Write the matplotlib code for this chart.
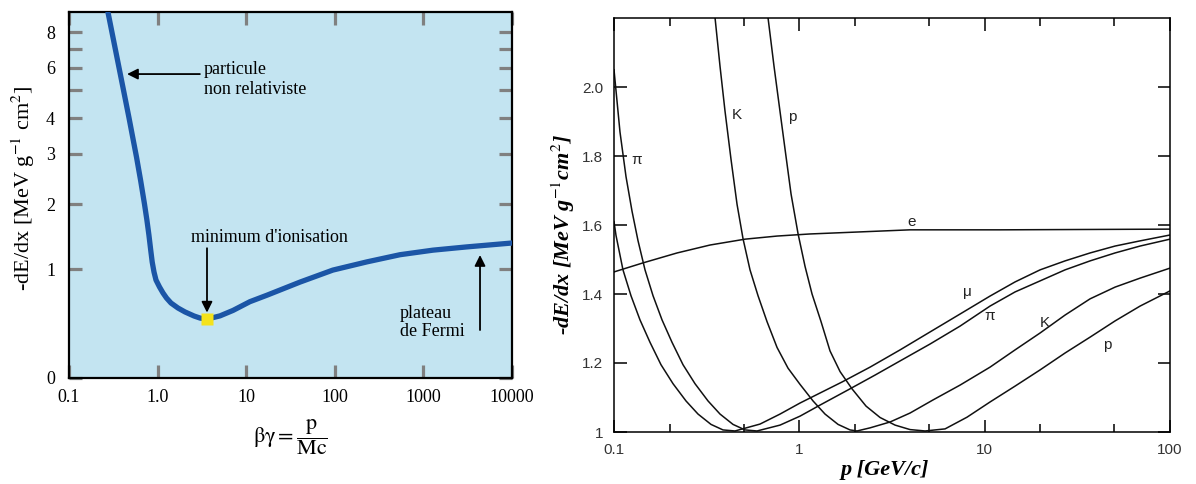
import numpy as np
import matplotlib
matplotlib.use("Agg")
from matplotlib import pyplot as plt
from matplotlib.ticker import FixedLocator, NullLocator, NullFormatter

# ---- left panel: universal curve  -dE/dx vs beta*gamma
bg = [0.275, 0.305, 0.362, 0.418, 0.476, 0.526, 0.578, 0.643, 0.711, 0.757,
      0.798, 0.836, 0.869, 0.911, 0.959, 1.051, 1.151, 1.260, 1.416, 1.699,
      2.039, 2.575, 3.01, 3.6, 5.06, 7.1, 11.0, 17.2, 40.5, 95, 231, 545,
      1283, 3090, 10000]
dedx = [9.4, 8.0, 6.13, 4.9, 4.0, 3.4, 2.92, 2.42, 2.0, 1.754,
        1.523, 1.292, 1.108, 0.972, 0.899, 0.835, 0.780, 0.734, 0.688, 0.642,
        0.606, 0.569, 0.550, 0.54, 0.57, 0.62, 0.70, 0.76, 0.88, 0.99, 1.11, 1.22,
        1.29, 1.34, 1.40]
bg_min, dedx_min = 3.6, 0.54
left_xticks = [0.1, 1, 10, 100, 1000, 10000]
left_xlabels = ["0.1", "1.0", "10", "100", "1000", "10000"]
left_yticks = [0, 1, 2, 3, 4, 6, 8]
left_yminor = [5, 7]

# ---- right panel: -dE/dx vs momentum for several particles
p_e = [0.1, 0.143, 0.219, 0.33, 0.51, 0.76, 1.14, 2.13, 3.96, 12.1, 100]
v_e = [1.464, 1.490, 1.519, 1.542, 1.559, 1.568, 1.574, 1.580, 1.586, 1.586, 1.588]

p_mu = [0.1, 0.1025, 0.1118, 0.1235, 0.1381, 0.1564, 0.1793, 0.2082, 0.2446, 0.284,
        0.3338, 0.3874, 0.4498, 0.6137, 0.7869, 1.009, 1.293, 1.701, 2.407, 3.496,
        5.074, 7.369, 10.69, 14.59, 19.91, 27.16, 37.06, 50.55, 68.96, 100]
v_mu = [1.61, 1.57, 1.47, 1.395, 1.325, 1.26, 1.195, 1.14, 1.09, 1.052,
        1.022, 1.006, 1.003, 1.023, 1.052, 1.084, 1.113, 1.145, 1.188, 1.238,
        1.290, 1.342, 1.394, 1.435, 1.470, 1.496, 1.519, 1.539, 1.554, 1.571]

p_pi = [0.1, 0.1077, 0.1161, 0.1251, 0.1347, 0.147, 0.1624, 0.1816, 0.2056, 0.2357,
        0.2736, 0.3216, 0.3733, 0.4387, 0.5093, 0.5912, 0.7869, 1.009, 1.293, 1.832,
        2.562, 3.496, 5.074, 7.369, 10.69, 14.59, 19.91, 27.16, 37.06, 50.55, 68.96, 100]
v_pi = [2.05, 1.87, 1.74, 1.64, 1.555, 1.47, 1.395, 1.325, 1.26, 1.195,
        1.14, 1.09, 1.052, 1.022, 1.006, 1.003, 1.020, 1.046, 1.078, 1.122,
        1.165, 1.206, 1.255, 1.307, 1.365, 1.406, 1.438, 1.470, 1.496, 1.519, 1.539, 1.559]

p_K = [0.351, 0.3733, 0.3972, 0.428, 0.4612, 0.4969, 0.5418, 0.5986, 0.6693, 0.7582,
       0.869, 1.0087, 1.1856, 1.376, 1.618, 1.878, 2.048, 2.407, 3.087, 3.958,
       5.267, 7.369, 10.69, 14.59, 19.91, 27.16, 37.06, 50.55, 68.96, 100]
v_K = [2.20, 2.06, 1.93, 1.79, 1.66, 1.56, 1.47, 1.395, 1.32, 1.245,
       1.185, 1.138, 1.09, 1.052, 1.022, 1.006, 1.003, 1.012, 1.029, 1.055,
       1.093, 1.136, 1.188, 1.238, 1.287, 1.339, 1.386, 1.420, 1.446, 1.475]

p_p = [0.678, 0.7302, 0.7773, 0.8372, 0.9021, 0.984, 1.0735, 1.171, 1.3093, 1.464,
       1.659, 1.9248, 2.291, 2.727, 3.285, 3.958, 4.769, 6.114, 8.035, 10.69,
       14.59, 19.91, 27.16, 37.06, 50.55, 68.96, 100]
v_p = [2.20, 2.06, 1.95, 1.82, 1.69, 1.575, 1.48, 1.40, 1.32, 1.235,
       1.175, 1.125, 1.075, 1.042, 1.02, 1.007, 1.003, 1.009, 1.043, 1.087,
       1.133, 1.180, 1.229, 1.275, 1.322, 1.365, 1.409]

right_labels = [("K", 0.461, 1.919), ("p", 0.913, 1.913), ("π", 0.133, 1.788),
                ("e", 4.06, 1.609), ("μ", 8.04, 1.406), ("π", 10.7, 1.336),
                ("K", 21.2, 1.316), ("p", 45.7, 1.252)]
right_xticks = [0.1, 1, 10, 100]
right_xminor = [0.2, 0.5, 2, 5, 20, 50]
right_yticks = [1, 1.2, 1.4, 1.6, 1.8, 2.0]
right_ylabels = ["1", "1.2", "1.4", "1.6", "1.8", "2.0"]


def fwd(v):
    v = np.asarray(v, float)
    lo = np.interp(v, [0, 1, 2], [0, 109, 174])
    hi = 174 + 86 * np.log2(np.maximum(v, 2) / 2)
    out = np.where(v <= 2, lo, hi)
    return np.where(v < 0, v * 109, out)


def inv(q):
    q = np.asarray(q, float)
    lo = np.interp(q, [0, 109, 174], [0, 1, 2])
    hi = 2 * 2 ** ((np.maximum(q, 174) - 174) / 86)
    out = np.where(q <= 174, lo, hi)
    return np.where(q < 0, q / 109, out)


W, H = 1196, 484
fig = plt.figure(figsize=(W / 100, H / 100), dpi=100)
serif = ["Liberation Serif", "DejaVu Serif"]
plt.rcParams["mathtext.fontset"] = "stix"

# ---------------- left
ax = fig.add_axes([69 / W, 1 - 378 / H, (512 - 69) / W, (378 - 12) / H])
ax.set_facecolor("#c3e4f1")
ax.set_xscale("log")
ax.set_yscale("function", functions=(fwd, inv))
ax.plot(bg, dedx, color="#1b55a6", lw=3.8, solid_capstyle="round",
        solid_joinstyle="round", zorder=3)
ax.plot([bg_min], [dedx_min], "s", color="#f4e21c", ms=8, mec="none", zorder=4)
ax.set_xlim(0.1, 10000)
ax.set_ylim(0, 9.4)
ax.set_xticks(left_xticks)
ax.set_xticklabels(left_xlabels)
ax.xaxis.set_minor_locator(NullLocator())
ax.set_yticks(left_yticks)
ax.set_yticklabels([str(t) for t in left_yticks])
ax.yaxis.set_minor_locator(FixedLocator(left_yminor))
ax.yaxis.set_minor_formatter(NullFormatter())
ax.tick_params(which="both", direction="in", top=True, right=True,
               length=9.5, width=2.3, color="#808080", pad=8)
ax.tick_params(axis="y", pad=10)
for lab in ax.get_xticklabels() + ax.get_yticklabels():
    lab.set_family(serif)
    lab.set_fontsize(13)
for s in ax.spines.values():
    s.set_linewidth(1.6)

arrow = dict(arrowstyle="-|>", color="black", lw=1.3, mutation_scale=16,
             shrinkA=0, shrinkB=0)
ax.annotate("", xy=(0.452, 5.70), xytext=(3.0, 5.70), arrowprops=arrow)
ax.text(3.34, 5.45, "particule\nnon relativiste", family=serif, fontsize=13,
        va="center", ha="left", linespacing=1.2)
ax.text(18.1, 1.48, "minimum d'ionisation", family=serif, fontsize=13,
        ha="center", va="center")
ax.annotate("", xy=(3.61, 0.60), xytext=(3.61, 1.32), arrowprops=arrow)
ax.text(545, 0.51, "plateau\nde Fermi", family=serif, fontsize=13,
        ha="left", va="center", linespacing=1.05)
ax.annotate("", xy=(4355, 1.215), xytext=(4355, 0.44), arrowprops=arrow)

fig.text(290 / W, 1 - 437 / H,
         r"$\mathrm{\beta\gamma} = \dfrac{\mathrm{p}}{\mathrm{Mc}}$",
         fontsize=16, ha="center", va="center")
fig.text(23 / W, 1 - 188 / H, "-dE/dx [MeV g$^{-1}$ cm$^{2}$]", family=serif,
         fontsize=16, rotation=90, ha="center", va="center")

# ---------------- right
ax2 = fig.add_axes([614 / W, 1 - 432 / H, (1170 - 614) / W, (432 - 18) / H])
ax2.set_xscale("log")
for px, py in [(p_e, v_e), (p_mu, v_mu), (p_pi, v_pi), (p_K, v_K), (p_p, v_p)]:
    ax2.plot(px, py, color="#111111", lw=1.1, solid_joinstyle="round")
ax2.set_xlim(0.1, 100)
ax2.set_ylim(1, 2.2)
ax2.set_xticks(right_xticks)
ax2.set_xticklabels(["0.1", "1", "10", "100"])
ax2.xaxis.set_minor_locator(FixedLocator(right_xminor))
ax2.xaxis.set_minor_formatter(NullFormatter())
ax2.set_yticks(right_yticks)
ax2.set_yticklabels(right_ylabels)
ax2.tick_params(which="major", direction="in", top=True, right=True,
                length=9, width=1.1, pad=8, labelsize=11, labelcolor="#333333")
ax2.tick_params(which="minor", direction="in", top=True, right=True,
                length=6, width=1.1)
for lab in ax2.get_xticklabels() + ax2.get_yticklabels():
    lab.set_family("Liberation Sans")
for s in ax2.spines.values():
    s.set_linewidth(1.1)
for name, x, y in right_labels:
    ax2.text(x, y, name, family="Liberation Sans", fontsize=11,
             ha="center", va="center", color="#222222")

fig.text(563 / W, 1 - 235 / H, "-dE/dx [MeV g$^{-1}$cm$^{2}$]", family=serif,
         fontsize=16, fontweight="bold", fontstyle="italic", rotation=90,
         ha="center", va="center")
fig.text(885 / W, 1 - 470 / H, "p [GeV/c]", family=serif, fontsize=16,
         fontweight="bold", fontstyle="italic", ha="center", va="center")

fig.savefig("out.png", dpi=100)
